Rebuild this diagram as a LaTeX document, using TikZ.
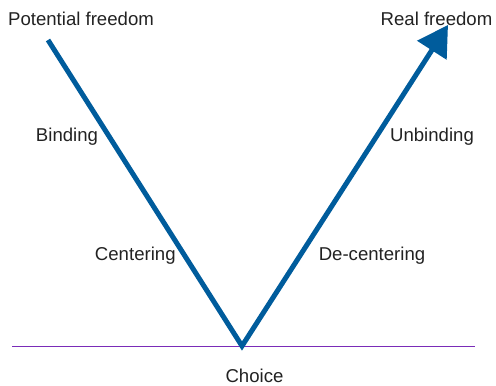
\documentclass[tikz,border=0pt]{standalone}
\usepackage{fontspec}
\setmainfont{Liberation Sans}
\usetikzlibrary{arrows.meta}
\definecolor{vblue}{HTML}{005C9C}
\definecolor{basepurple}{HTML}{7A2CB8}
\definecolor{textgray}{HTML}{222222}

\begin{document}
\begin{tikzpicture}[x=1pt, y=-1pt,
    lbl/.style={text=textgray, font=\fontsize{18.6}{22}\selectfont, inner sep=0pt, anchor=base}]
    \useasboundingbox (0,0) rectangle (496,386);

    % baseline of choice
    \coordinate (baseL) at (12,346);
    \coordinate (baseR) at (475,346);
    \draw[basepurple, line width=1pt] (baseL) -- (baseR);

    % the V
    \coordinate (potential) at (48,40);
    \coordinate (choicept) at (242,346);
    \coordinate (real) at (448,25);
    \draw[vblue, line width=5pt, line join=miter, miter limit=20,
          -{Triangle[length=30pt, width=34pt]}]
      (potential) -- (choicept) -- (real);

    % labels
    \node[lbl] (potlabel) at (81,25) {Potential freedom};
    \node[lbl] (reallabel) at (436.5,25) {Real freedom};
    \node[lbl] (binding) at (67,141) {Binding};
    \node[lbl] (unbinding) at (432,141) {Unbinding};
    \node[lbl] (centering) at (135.3,260) {Centering};
    \node[lbl] (decentering) at (372,260.5) {De-centering};
    \node[lbl] (choice) at (254.5,382) {Choice};
\end{tikzpicture}
\end{document}
